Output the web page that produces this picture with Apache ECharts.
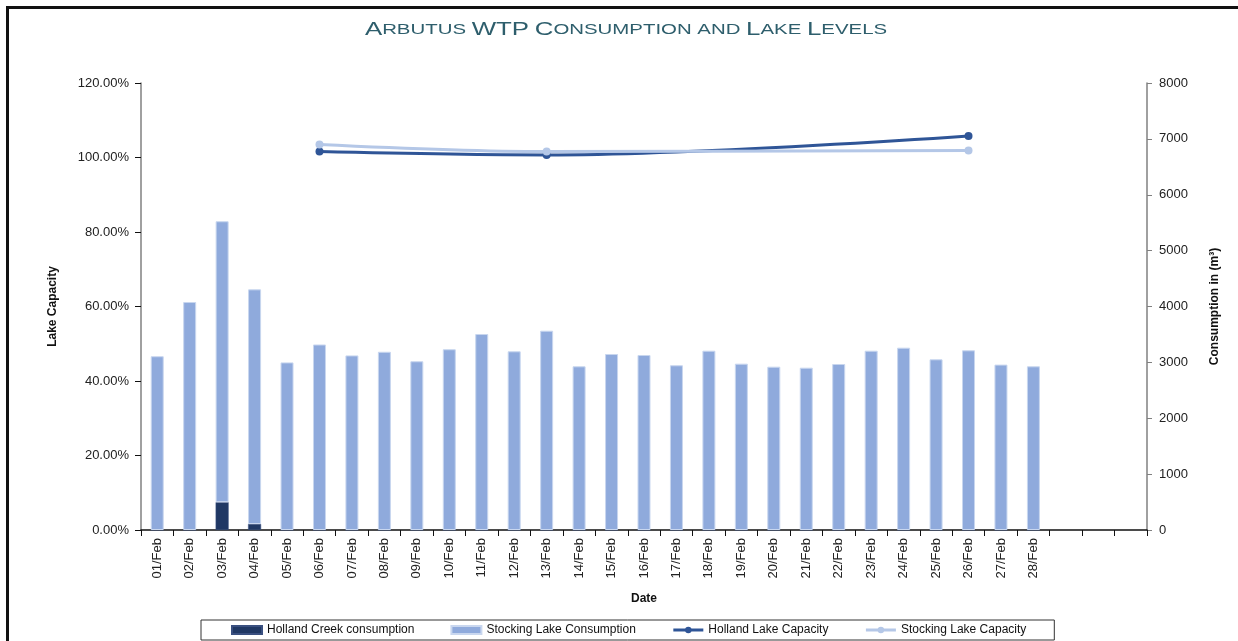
<!DOCTYPE html>
<html>
<head>
<meta charset="utf-8">
<script src="https://cdn.jsdelivr.net/npm/echarts@6/dist/echarts.min.js"></script>
<style>
  html, body {margin: 0; padding: 0; background: #fff;}
  #view {width: 1238px; height: 641px;}
</style>
</head>
<body>
<div id="view"></div>
<script>
// dates, plus three empty slots at the end of the axis
var days = ['01/Feb','02/Feb','03/Feb','04/Feb','05/Feb','06/Feb','07/Feb','08/Feb','09/Feb','10/Feb',
            '11/Feb','12/Feb','13/Feb','14/Feb','15/Feb','16/Feb','17/Feb','18/Feb','19/Feb','20/Feb',
            '21/Feb','22/Feb','23/Feb','24/Feb','25/Feb','26/Feb','27/Feb','28/Feb',' ','  ','   '];

// consumption, m3
var hollandCreek = [0, 0, 496, 107, 0, 0, 0, 0, 0, 0,
                    0, 0, 0, 0, 0, 0, 0, 0, 0, 0,
                    0, 0, 0, 0, 0, 0, 0, 0, null, null, null];
var stockingLake = [3110, 4080, 5030, 4200, 3000, 3320, 3125, 3190, 3020, 3235,
                    3508, 3198, 3567, 2930, 3150, 3132, 2948, 3209, 2977, 2923,
                    2905, 2971, 3209, 3263, 3055, 3216, 2960, 2930, null, null, null];

// lake capacity, %
var hollandCap = [null, null, null, null, null, 101.6, null, null, null, null,
                  null, null, 100.7, null, null, null, null, null, null, null,
                  null, null, null, null, null, 105.8, null, null, null, null, null];
var stockingCap = [null, null, null, null, null, 103.5, null, null, null, null,
                   null, null, 101.6, null, null, null, null, null, null, null,
                   null, null, null, null, null, 101.9, null, null, null, null, null];

var titleText = 'Arbutus WTP Consumption and Lake Levels';
var font = 'Liberation Sans, Arial, sans-serif';

// small caps title: capitals big, lower case letters as small capitals
function smallCaps(str) {
    return str.split('').map(function(c) {
        if (c === ' ') return '{sm| }';
        if (c === c.toUpperCase()) return '{big|' + c + '}';
        return '{sm|' + c.toUpperCase() + '}';
    }).join('');
}

var chart = echarts.init(document.getElementById('view'));
chart.setOption({
    animation: false,
    textStyle: {fontFamily: font},
    graphic: [{
        type: 'rect', left: 5, top: 5,
        shape: {width: 1240, height: 640},
        style: {fill: 'none', stroke: '#111', lineWidth: 3}
    }, {
        // wide small-caps title, stretched to the width of the original
        type: 'text', x: 626, y: 30, scaleX: 1.36,
        style: {
            text: smallCaps(titleText),
            align: 'center', verticalAlign: 'middle',
            rich: {
                big: {fontSize: 19, fill: '#2e5e6c', fontFamily: font},
                sm: {fontSize: 15, fill: '#2e5e6c', fontFamily: font}
            }
        }
    }],
    grid: {left: 141, right: 91, top: 83, bottom: 111},
    legend: {
        bottom: 1, left: 201,
        width: 850,
        padding: [4, 28, 4, 30],
        itemGap: 36,
        itemWidth: 30, itemHeight: 8,
        borderColor: '#333', borderWidth: 1,
        textStyle: {fontSize: 12, color: '#111'},
        data: [
            {name: 'Holland Creek consumption', icon: 'rect'},
            {name: 'Stocking Lake Consumption', icon: 'rect'},
            {name: 'Holland Lake Capacity', lineStyle: {width: 3}},
            {name: 'Stocking Lake Capacity', lineStyle: {width: 3}}
        ]
    },
    xAxis: {
        type: 'category', data: days,
        name: 'Date', nameLocation: 'middle', nameGap: 63,
        nameTextStyle: {fontWeight: 'bold', fontSize: 12, color: '#111'},
        axisLine: {lineStyle: {color: '#111', width: 1.5}},
        axisTick: {show: true, length: 6, lineStyle: {color: '#111'}},
        axisLabel: {rotate: 90, fontSize: 13, color: '#222', interval: 0, margin: 8}
    },
    yAxis: [{
        type: 'value', min: 0, max: 120, interval: 20,
        name: 'Lake Capacity', nameLocation: 'middle', nameGap: 82, nameRotate: 90,
        nameTextStyle: {fontWeight: 'bold', fontSize: 12, color: '#111'},
        axisLine: {show: true, lineStyle: {color: '#808080', width: 1.5}},
        axisTick: {show: true, length: 6, lineStyle: {color: '#111'}},
        axisLabel: {fontSize: 13, color: '#222', margin: 12,
                    formatter: function(v) { return v.toFixed(2) + '%'; }},
        splitLine: {show: false}
    }, {
        type: 'value', min: 0, max: 8000, interval: 1000,
        name: 'Consumption in (m³)', nameLocation: 'middle', nameGap: 62, nameRotate: 90,
        nameTextStyle: {fontWeight: 'bold', fontSize: 12, color: '#111'},
        axisLine: {show: true, lineStyle: {color: '#808080', width: 1.5}},
        axisTick: {show: true, length: 5, lineStyle: {color: '#808080'}},
        axisLabel: {fontSize: 13, color: '#222', margin: 12,
                    formatter: function(v) { return String(v); }},
        splitLine: {show: false}
    }],
    series: [
        {name: 'Holland Creek consumption', type: 'bar', stack: 'c', yAxisIndex: 1,
         barWidth: 13, data: hollandCreek,
         itemStyle: {color: '#203864', borderColor: '#3a5080', borderWidth: 0.5}},
        {name: 'Stocking Lake Consumption', type: 'bar', stack: 'c', yAxisIndex: 1,
         barWidth: 13, data: stockingLake,
         itemStyle: {color: '#8faadc', borderColor: '#c9d7ef', borderWidth: 1}},
        {name: 'Holland Lake Capacity', type: 'line', yAxisIndex: 0,
         data: hollandCap, connectNulls: true, smooth: 0.35,
         symbol: 'circle', symbolSize: 8,
         lineStyle: {color: '#2f5597', width: 3},
         itemStyle: {color: '#2f5597'}},
        {name: 'Stocking Lake Capacity', type: 'line', yAxisIndex: 0,
         data: stockingCap, connectNulls: true, smooth: 0.35,
         symbol: 'circle', symbolSize: 8,
         lineStyle: {color: '#b4c7e7', width: 3},
         itemStyle: {color: '#b4c7e7'}}
    ]
});
</script>
</body>
</html>
